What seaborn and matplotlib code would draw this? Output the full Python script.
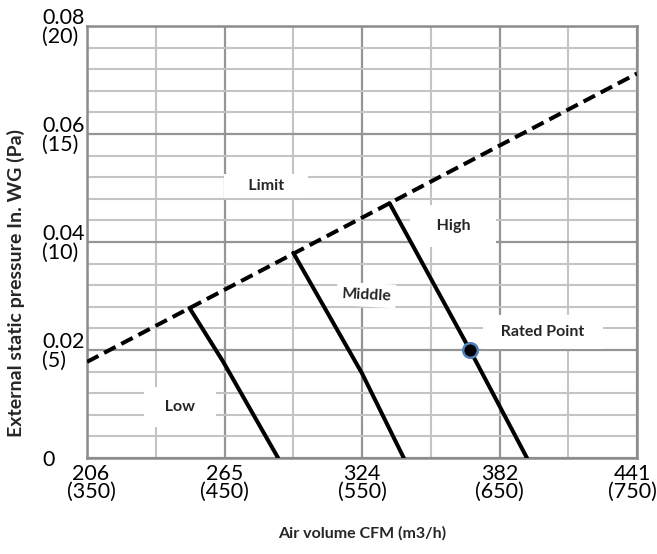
import numpy as np
import pandas as pd
import matplotlib
matplotlib.use("Agg")
import matplotlib.pyplot as plt
import matplotlib.transforms as mtransforms
import seaborn as sns
from matplotlib.ticker import MultipleLocator

# fan curves: air volume (m3/h) vs static pressure (Pa)
limit_flow = [350, 750]
limit_pa = [4.45, 17.8]
low_flow = [424.5, 449, 489]
low_pa = [6.95, 4.46, 0.0]
mid_flow = [500, 550, 580.4]
mid_pa = [9.5, 3.92, 0.0]
high_flow = [570, 628.5, 670]
high_pa = [11.8, 5.0, 0.0]
rated_flow = [628.5]
rated_pa = [5.0]

x_ticks = [350, 450, 550, 650, 750]
x_labels = ["206\n(350)", "265\n(450)", "324\n(550)", "382\n(650)", "441\n(750)"]
y_ticks = [0, 5, 10, 15, 20]
y_labels = ["0", "0.02\n(5)", "0.04\n(10)", "0.06\n(15)", "0.08\n(20)"]

label_text = ["Limit", "High", "Middle", "Rated Point", "Low"]
label_x = [480.2, 616.4, 553.2, 681.5, 417.6]
label_y = [12.59, 10.74, 7.55, 5.83, 2.36]

sns.set_style("white")
plt.rcParams["font.family"] = ["Lato", "DejaVu Sans"]

fig = plt.figure(figsize=(6.57, 5.54), dpi=100)
ax = fig.add_axes([87 / 657, 96 / 554, 550 / 657, 432 / 554])

curves = pd.DataFrame({
    "flow": low_flow + mid_flow + high_flow,
    "pa": low_pa + mid_pa + high_pa,
    "speed": ["Low"] * len(low_flow) + ["Middle"] * len(mid_flow) + ["High"] * len(high_flow),
})
for speed, grp in curves.groupby("speed"):
    sns.lineplot(data=grp, x="flow", y="pa", ax=ax, color="black", lw=2.9,
                 sort=False, estimator=None, zorder=4, legend=False)

sns.lineplot(x=limit_flow, y=limit_pa, ax=ax, color="black", lw=2.9,
             linestyle=(0, (3.2, 1.6)), zorder=4)
sns.scatterplot(x=rated_flow, y=rated_pa, ax=ax, s=110, color="black",
                edgecolor="#4f81bd", linewidth=1.8, zorder=6)

ax.set_xlim(350, 750)
ax.set_ylim(0, 20)

# grid: light every 50 m3/h / 1 Pa, darker on the labelled values
ax.xaxis.set_minor_locator(MultipleLocator(50))
ax.yaxis.set_minor_locator(MultipleLocator(1))
ax.grid(which="minor", color="#c4c4c4", lw=1.5, zorder=1)
ax.grid(which="major", color="#959595", lw=1.6, zorder=2)
ax.set_axisbelow(True)
for side in ["left", "bottom", "top", "right"]:
    ax.spines[side].set_color("#8c8c8c")
    ax.spines[side].set_linewidth(1.8)

ax.set_xticks(x_ticks)
ax.set_xticklabels(x_labels, fontsize=15.5, linespacing=0.9)
ax.set_yticks(y_ticks)
ax.set_yticklabels(y_labels, fontsize=15.5, linespacing=0.9, ha="left")
ax.tick_params(axis="both", which="both", length=0)
ax.tick_params(axis="x", pad=4, colors="black")
ax.tick_params(axis="y", pad=32.4, colors="black")

# first / last x labels are nudged inwards like in the original
xl = ax.get_xticklabels()
xl[0].set_transform(xl[0].get_transform() + mtransforms.ScaledTranslation(4 / 100, 0, fig.dpi_scale_trans))
xl[-1].set_transform(xl[-1].get_transform() + mtransforms.ScaledTranslation(-5 / 100, 0, fig.dpi_scale_trans))

ax.set_xlabel("Air volume CFM (m3/h)", fontweight="bold", fontsize=11.5)
ax.set_ylabel("External static pressure In. WG (Pa)", fontweight="bold", fontsize=14)
ax.xaxis.set_label_coords(0.5, -0.158)
ax.yaxis.set_label_coords(-0.113, 0.404)
ax.xaxis.label.set_va("top")

# white boxes behind the labels: (extra spaces each side, vertical pad)
box_space = [5, 3, 0, 2, 2]
box_pad = [0.3, 0.9, 0.3, 0.65, 0.8]
box_rot = [0, 0, -3, 0, 0]
for txt, lx, ly, ns, p, r in zip(label_text, label_x, label_y, box_space, box_pad, box_rot):
    s = "\u00a0" * ns + txt + "\u00a0" * ns
    ax.text(lx, ly, s, ha="center", va="center", fontweight="bold",
            fontsize=11.5, zorder=3, rotation=r, rotation_mode="anchor",
            bbox=dict(boxstyle="square,pad=%s" % p, fc="white", ec="none"))

fig.savefig("out.png", dpi=100)
